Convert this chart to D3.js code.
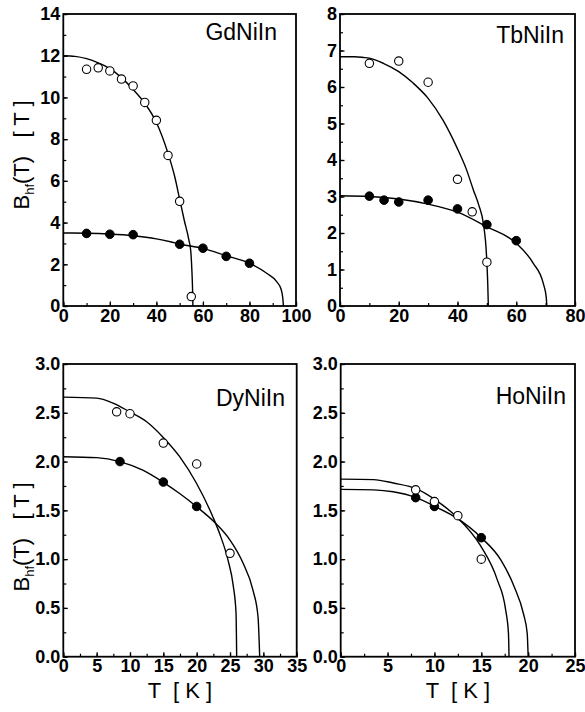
<!DOCTYPE html>
<html>
<head>
<meta charset="utf-8">
<script src="https://cdn.jsdelivr.net/npm/d3@7"></script>
<style>
  html, body { margin: 0; padding: 0; background: #fff; }
  svg { display: block; }
  text { font-family: "Liberation Sans", Arial, Helvetica, sans-serif; fill: #000; }
</style>
</head>
<body>
<svg id="chart" width="585" height="712"></svg>
<script>
// ---- GdNiIn ----
const gdOpenT = [10, 15, 20, 25, 30, 35, 40, 45, 50, 55];
const gdOpenB = [11.35, 11.42, 11.27, 10.88, 10.55, 9.76, 8.9, 7.22, 5.02, 0.45];
const gdFilledT = [10, 20, 30, 50, 60, 70, 80];
const gdFilledB = [3.48, 3.44, 3.42, 2.96, 2.77, 2.38, 2.05];
const gdOpenFitT = [0, 5, 10, 15, 20, 25, 30, 35, 40, 45, 48, 50, 52, 54, 54.8, 55.3, 55.55, 55.7];
const gdOpenFitB = [12.0, 11.97, 11.86, 11.66, 11.38, 10.95, 10.38, 9.72, 8.8, 7.32, 6.15, 5.12, 4.1, 3.15, 2.6, 1.6, 0.8, 0];
const gdFilledFitT = [0, 10, 20, 30, 40, 46, 50, 60, 70, 80, 87.4, 91.7, 93.6, 94.3, 94.6];
const gdFilledFitB = [3.5, 3.49, 3.45, 3.37, 3.22, 3.08, 2.97, 2.76, 2.41, 2.05, 1.57, 1.17, 0.8, 0.4, 0];

// ---- TbNiIn ----
const tbOpenT = [10, 20, 30, 40, 45, 50];
const tbOpenB = [6.65, 6.71, 6.13, 3.47, 2.58, 1.2];
const tbFilledT = [10, 15, 20, 30, 40, 50, 60];
const tbFilledB = [3.01, 2.9, 2.85, 2.9, 2.66, 2.23, 1.79];
const tbOpenFitT = [0, 5, 8, 10, 14.75, 20, 25, 30, 35, 39.7, 43, 45.4, 47.3, 48.8, 49.9, 50.3, 50.5];
const tbOpenFitB = [6.83, 6.83, 6.81, 6.79, 6.65, 6.42, 6.1, 5.69, 5.1, 4.36, 3.75, 3.18, 2.75, 2.26, 1.35, 0.6, 0];
const tbFilledFitT = [0, 10, 20, 30, 40, 50, 60, 65.8, 69.2, 70.2, 70.4];
const tbFilledFitB = [3.02, 3.0, 2.93, 2.79, 2.57, 2.17, 1.72, 1.17, 0.62, 0.25, 0];

// ---- DyNiIn ----
const dyOpenT = [8, 10, 15, 20, 25];
const dyOpenB = [2.51, 2.49, 2.19, 1.975, 1.06];
const dyFilledT = [8.5, 15, 20];
const dyFilledB = [2.0, 1.79, 1.54];
const dyOpenFitT = [0, 5, 7.45, 9.95, 12.45, 14.95, 17.45, 19.95, 22.45, 23.45, 24.7, 25.5, 25.9, 26.0];
const dyOpenFitB = [2.66, 2.65, 2.6, 2.51, 2.41, 2.25, 2.05, 1.78, 1.43, 1.26, 0.99, 0.72, 0.45, 0];
const dyFilledFitT = [0, 5, 8.45, 12, 14.95, 17.5, 19.95, 22.95, 24.95, 26.95, 28.45, 29.2, 29.45];
const dyFilledFitB = [2.05, 2.04, 2.0, 1.91, 1.79, 1.67, 1.54, 1.36, 1.2, 0.96, 0.68, 0.41, 0];

// ---- HoNiIn ----
const hoOpenT = [8, 10, 12.5, 15];
const hoOpenB = [1.71, 1.59, 1.445, 1.0];
const hoFilledT = [8, 10, 15];
const hoFilledB = [1.63, 1.54, 1.22];
const hoOpenFitT = [0, 3.5, 5.6, 8.1, 10.06, 12.4, 14.9, 16.7, 17.6, 17.9, 17.96];
const hoOpenFitB = [1.82, 1.815, 1.78, 1.72, 1.61, 1.43, 1.14, 0.79, 0.48, 0.24, 0];
const hoFilledFitT = [0, 3.5, 5.6, 8.04, 10.06, 12.4, 15, 17.1, 18.5, 19.5, 19.9, 20.0];
const hoFilledFitB = [1.715, 1.71, 1.69, 1.63, 1.54, 1.42, 1.22, 0.99, 0.72, 0.44, 0.24, 0];

// ---- axis ticks ----
const gdXTicks = [0, 20, 40, 60, 80, 100];
const gdYTicks = [0, 2, 4, 6, 8, 10, 12, 14];
const tbXTicks = [0, 20, 40, 60, 80];
const tbYTicks = [0, 1, 2, 3, 4, 5, 6, 7, 8];
const dyXTicks = [0, 5, 10, 15, 20, 25, 30, 35];
const hoXTicks = [0, 5, 10, 15, 20, 25];
const lowYTicks = [0, 0.5, 1.0, 1.5, 2.0, 2.5, 3.0];

const panels = [
  { name: "GdNiIn", box: [63.3, 14, 296, 306], xDom: [0, 100], yDom: [0, 14],
    xTicks: gdXTicks, xMinor: 10, yTicks: gdYTicks, yMinor: 1, yFmt: d3.format("d"),
    open: [gdOpenT, gdOpenB], filled: [gdFilledT, gdFilledB],
    fits: [[gdOpenFitT, gdOpenFitB], [gdFilledFitT, gdFilledFitB]],
    title: [277, 40], yLabel: true, xLabel: false, yLabelY: 155 },
  { name: "TbNiIn", box: [340, 14, 575, 306], xDom: [0, 80], yDom: [0, 8],
    xTicks: tbXTicks, xMinor: 10, yTicks: tbYTicks, yMinor: 0.5, yFmt: d3.format("d"),
    open: [tbOpenT, tbOpenB], filled: [tbFilledT, tbFilledB],
    fits: [[tbOpenFitT, tbOpenFitB], [tbFilledFitT, tbFilledFitB]],
    title: [564, 43], yLabel: false, xLabel: false },
  { name: "DyNiIn", box: [63.3, 364, 296.7, 656.7], xDom: [0, 35], yDom: [0, 3],
    xTicks: dyXTicks, xMinor: 2.5, yTicks: lowYTicks, yMinor: 0.25, yFmt: d3.format(".1f"),
    open: [dyOpenT, dyOpenB], filled: [dyFilledT, dyFilledB],
    fits: [[dyOpenFitT, dyOpenFitB], [dyFilledFitT, dyFilledFitB]],
    title: [285, 406], yLabel: true, xLabel: true, yLabelY: 537 },
  { name: "HoNiIn", box: [340.7, 364, 575, 656.7], xDom: [0, 25], yDom: [0, 3],
    xTicks: hoXTicks, xMinor: 2.5, yTicks: lowYTicks, yMinor: 0.25, yFmt: d3.format(".1f"),
    open: [hoOpenT, hoOpenB], filled: [hoFilledT, hoFilledB],
    fits: [[hoOpenFitT, hoOpenFitB], [hoFilledFitT, hoFilledFitB]],
    title: [566, 404], yLabel: false, xLabel: true }
];

const svg = d3.select("#chart");
svg.append("rect").attr("width", 585).attr("height", 712).attr("fill", "#fff");

panels.forEach(p => {
  const [x0, y0, x1, y1] = p.box;
  const x = d3.scaleLinear().domain(p.xDom).range([x0, x1]);
  const y = d3.scaleLinear().domain(p.yDom).range([y1, y0]);
  const g = svg.append("g");

  // minor ticks (inward, no labels)
  const xMinorVals = d3.range(p.xDom[0], p.xDom[1] + 1e-9, p.xMinor);
  const yMinorVals = d3.range(p.yDom[0], p.yDom[1] + 1e-9, p.yMinor);
  g.append("g").attr("transform", `translate(0,${y1})`)
    .call(d3.axisBottom(x).tickValues(xMinorVals).tickSize(-3).tickFormat(""))
    .call(a => a.select(".domain").remove())
    .call(a => a.selectAll("line").attr("stroke-width", 1.2));
  g.append("g").attr("transform", `translate(${x0},0)`)
    .call(d3.axisLeft(y).tickValues(yMinorVals).tickSize(-3).tickFormat(""))
    .call(a => a.select(".domain").remove())
    .call(a => a.selectAll("line").attr("stroke-width", 1.2));

  // major ticks with labels
  g.append("g").attr("transform", `translate(0,${y1})`)
    .call(d3.axisBottom(x).tickValues(p.xTicks).tickSize(-4.5).tickPadding(3).tickFormat(d3.format("d")))
    .call(a => a.select(".domain").remove())
    .call(a => a.selectAll("line").attr("stroke-width", 1.3))
    .call(a => a.selectAll("text").attr("font-size", 18).attr("font-weight", "bold")
      .attr("font-family", "'Liberation Sans', Arial, sans-serif").attr("fill", "#000"));
  g.append("g").attr("transform", `translate(${x0},0)`)
    .call(d3.axisLeft(y).tickValues(p.yTicks).tickSize(-4.5).tickPadding(3).tickFormat(p.yFmt))
    .call(a => a.select(".domain").remove())
    .call(a => a.selectAll("line").attr("stroke-width", 1.3))
    .call(a => a.selectAll("text").attr("font-size", 18).attr("font-weight", "bold")
      .attr("font-family", "'Liberation Sans', Arial, sans-serif").attr("fill", "#000"));

  // fitted curves
  const line = d3.line().x(d => x(d[0])).y(d => y(d[1])).curve(d3.curveMonotoneX);
  p.fits.forEach(([ts, bs]) => {
    g.append("path").datum(d3.zip(ts, bs)).attr("d", line)
      .attr("fill", "none").attr("stroke", "#000").attr("stroke-width", 1.4);
  });

  // data points
  g.selectAll(".filled").data(d3.zip(p.filled[0], p.filled[1])).join("circle")
    .attr("cx", d => x(d[0])).attr("cy", d => y(d[1])).attr("r", 4.3)
    .attr("fill", "#000").attr("stroke", "#000").attr("stroke-width", 1);
  g.selectAll(".open").data(d3.zip(p.open[0], p.open[1])).join("circle")
    .attr("cx", d => x(d[0])).attr("cy", d => y(d[1])).attr("r", 4.2)
    .attr("fill", "#fff").attr("stroke", "#000").attr("stroke-width", 1.1);

  // frame
  g.append("rect").attr("x", x0).attr("y", y0).attr("width", x1 - x0).attr("height", y1 - y0)
    .attr("fill", "none").attr("stroke", "#000").attr("stroke-width", 1.8);

  // compound label
  g.append("text").attr("x", p.title[0]).attr("y", p.title[1])
    .attr("text-anchor", "end").attr("font-size", 23).text(p.name);

  if (p.yLabel) {
    const t = g.append("text")
      .attr("transform", `translate(29,${p.yLabelY}) rotate(-90)`)
      .attr("text-anchor", "middle").attr("font-size", 22)
      .attr("xml:space", "preserve");
    t.append("tspan").text("B");
    t.append("tspan").attr("font-size", 13).attr("dy", 5).text("hf");
    t.append("tspan").attr("dy", -5).text("(T)   [ T ]");
  }
  if (p.xLabel) {
    g.append("text").attr("x", (x0 + x1) / 2).attr("y", 698)
      .attr("text-anchor", "middle").attr("font-size", 22)
      .attr("xml:space", "preserve").text("T  [ K ]");
  }
});
</script>
</body>
</html>
